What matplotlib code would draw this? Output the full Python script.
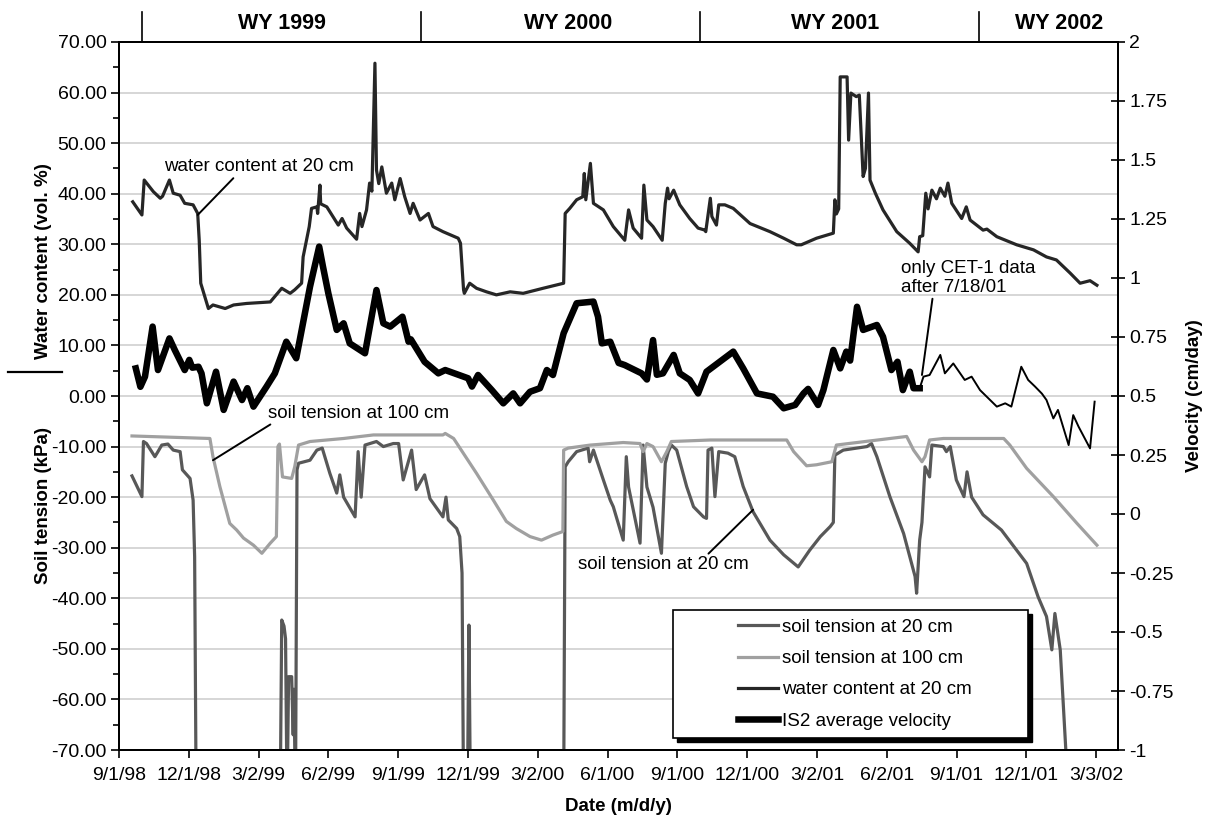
import numpy as np
import matplotlib
matplotlib.use('Agg')
from matplotlib import pyplot as plt
from matplotlib.patches import Rectangle
from matplotlib.lines import Line2D

plt.rcParams['font.family'] = ['Liberation Sans', 'DejaVu Sans']

# x = days after 9/1/98
tick_labels = ['9/1/98', '12/1/98', '3/2/99', '6/2/99', '9/1/99', '12/1/99', '3/2/00',
               '6/1/00', '9/1/00', '12/1/00', '3/2/01', '6/2/01', '9/1/01', '12/1/01', '3/3/02']
tick_step = 91.36
x_max = 1307.6

wy_bounds = [30, 395, 761, 1126]          # 10/1 of each water year
wy_names = ['WY 1999', 'WY 2000', 'WY 2001', 'WY 2002']
wy_label_days = [213, 588, 937, 1231]

# water content at 20 cm (vol. %)
wc_day = [18, 30, 33, 45, 54, 57, 66, 71, 80, 86, 97, 103, 105, 107, 117, 123, 139, 150, 167, 198,
          213, 224, 230, 239, 241, 249, 252, 259, 260, 263, 264, 272, 287, 292, 298, 311, 315, 318,
          324, 328, 331, 335, 337, 340, 344, 350, 357, 361, 368, 374, 381, 385, 394, 405, 411, 424,
          444, 447, 451, 452, 459, 468, 481, 494, 512, 529, 555, 582, 584, 590, 599, 607, 609, 611,
          617, 621, 634, 647, 662, 667, 673, 684, 687, 691, 699, 711, 715, 718, 720, 726, 734, 747,
          758, 767, 768, 774, 776, 782, 785, 793, 804, 826, 852, 870, 887, 893, 913, 935, 937, 939,
          942, 944, 953, 955, 958, 965, 969, 974, 977, 981, 983, 990, 1000, 1018, 1035, 1046, 1048,
          1052, 1056, 1059, 1064, 1070, 1075, 1081, 1085, 1090, 1103, 1109, 1114, 1131, 1136, 1149,
          1175, 1197, 1214, 1227, 1245, 1258, 1271, 1280]
wc_val = [38.4, 35.8, 42.7, 40.4, 39.1, 39.5, 42.7, 40.1, 39.7, 38.1, 37.8, 36.1, 30.8, 22.3, 17.3,
          18.0, 17.3, 18.0, 18.3, 18.6, 21.3, 20.3, 21.0, 22.3, 27.5, 33.5, 37.1, 37.4, 36.1, 41.7,
          38.0, 37.4, 33.8, 35.1, 33.2, 31.0, 36.1, 33.5, 36.8, 42.1, 40.5, 65.8, 44.7, 42.0, 45.3,
          40.1, 42.1, 38.8, 43.0, 39.4, 36.1, 38.1, 34.8, 36.1, 33.5, 32.5, 31.2, 30.2, 21.0, 20.3,
          22.3, 21.3, 20.6, 20.0, 20.6, 20.3, 21.3, 22.3, 36.1, 37.1, 38.8, 39.4, 44.0, 38.8, 46.0,
          38.1, 36.8, 33.5, 30.8, 36.8, 33.2, 31.2, 41.7, 34.8, 33.5, 30.8, 38.1, 41.1, 39.0, 40.7,
          37.8, 35.1, 33.2, 32.8, 32.5, 39.1, 35.5, 33.8, 37.8, 37.8, 37.1, 34.1, 32.5, 31.2, 29.9,
          29.9, 31.2, 32.2, 38.8, 36.0, 37.0, 63.1, 63.1, 50.6, 59.9, 59.2, 59.5, 43.4, 45.0, 59.9,
          42.7, 40.1, 36.8, 32.5, 30.2, 28.5, 31.5, 31.7, 40.1, 37.0, 40.7, 39.0, 41.1, 39.5, 42.1,
          38.1, 35.1, 37.4, 34.8, 32.8, 33.0, 31.5, 29.9, 28.9, 27.5, 26.9, 24.3, 22.3, 22.8, 21.9]

# soil tension at 20 cm (kPa), values below -70 are off scale
st20_day = [17, 30, 32, 36, 47, 51, 56, 64, 71, 80, 83, 93, 97, 99, 101, 211, 213, 216, 218, 220,
            222, 226, 228, 229, 231, 233, 235, 250, 259, 266, 276, 285, 289, 294, 309, 313, 317, 322,
            337, 346, 359, 366, 372, 383, 389, 400, 407, 424, 428, 431, 442, 446, 449, 451, 456, 458,
            460, 582, 584, 588, 599, 614, 616, 621, 634, 643, 647, 656, 660, 664, 667, 682, 686, 691,
            699, 710, 715, 719, 723, 730, 743, 752, 765, 769, 771, 776, 780, 785, 797, 806, 817, 830,
            852, 870, 889, 904, 918, 931, 935, 937, 948, 979, 985, 992, 1009, 1027, 1042, 1044, 1048,
            1051, 1055, 1061, 1064, 1079, 1083, 1088, 1096, 1106, 1110, 1116, 1131, 1155, 1175, 1188,
            1203, 1214, 1221, 1225, 1232, 1243]
st20_val = [-15.8, -19.9, -9.0, -9.4, -12.0, -11.0, -9.7, -9.5, -10.7, -11.0, -14.6, -16.3, -20.6,
            -31.8, -80, -80, -44.3, -45.5, -48.0, -80, -55.5, -55.5, -67.0, -58.0, -80, -14.6, -13.3,
            -12.7, -10.7, -10.3, -15.3, -19.2, -15.6, -20.0, -23.9, -11.0, -20.0, -9.7, -9.0, -10.0,
            -9.4, -9.4, -16.6, -10.7, -18.5, -15.6, -20.3, -23.9, -20.0, -24.5, -26.2, -27.8, -35.0,
            -80, -80, -45.3, -80, -80, -14.0, -13.0, -11.0, -10.3, -13.0, -10.7, -16.6, -20.6, -21.9,
            -26.5, -28.5, -12.0, -18.0, -29.1, -9.7, -18.0, -22.0, -31.1, -13.3, -11.0, -9.7, -10.7,
            -17.9, -21.9, -23.9, -24.2, -10.7, -10.3, -19.9, -11.0, -11.3, -12.0, -17.9, -22.9, -28.5,
            -31.4, -33.8, -30.5, -27.8, -25.8, -25.0, -11.7, -10.7, -10.0, -9.4, -12.0, -19.9, -27.2,
            -35.7, -39.0, -28.5, -25.0, -14.0, -16.0, -9.7, -10.0, -11.0, -10.0, -16.6, -19.9, -15.0,
            -20.0, -23.5, -26.5, -30.5, -33.1, -39.7, -43.6, -50.2, -43.0, -50.2, -80]

# soil tension at 100 cm (kPa)
st100_day = [17, 119, 123, 132, 145, 154, 163, 176, 187, 198, 206, 208, 210, 214, 226, 230, 235,
             250, 294, 333, 424, 427, 438, 468, 490, 507, 520, 538, 553, 568, 581, 582, 588, 617,
             660, 682, 686, 691, 699, 710, 717, 723, 774, 874, 883, 900, 913, 933, 939, 955, 1031,
             1040, 1051, 1055, 1061, 1079, 1158, 1166, 1188, 1223, 1254, 1280]
st100_val = [-7.9, -8.4, -12.0, -17.9, -25.2, -26.5, -28.1, -29.5, -31.1, -29.1, -27.8, -10.0,
             -9.5, -16.0, -16.3, -14.0, -9.7, -9.0, -8.4, -7.7, -7.7, -7.4, -8.4, -15.3, -20.6,
             -24.8, -26.2, -27.8, -28.5, -27.5, -26.8, -10.7, -10.3, -9.7, -9.2, -9.4, -11.0, -9.4,
             -10.0, -13.0, -11.0, -9.0, -8.7, -8.7, -11.0, -13.8, -13.6, -13.0, -9.7, -9.4, -8.0,
             -10.7, -13.0, -12.0, -8.7, -8.4, -8.4, -9.7, -14.3, -19.9, -25.2, -29.5]

# IS2 average velocity (cm/day)
vel_day = [22, 28, 34, 44, 51, 66, 73, 86, 92, 96, 104, 108, 115, 127, 137, 150, 161, 168, 176,
           193, 204, 219, 232, 250, 262, 267, 274, 285, 294, 302, 322, 337, 346, 355, 371, 379, 382,
           400, 418, 427, 457, 462, 470, 488, 503, 516, 525, 538, 551, 560, 568, 582, 599, 621, 627,
           632, 643, 654, 662, 684, 691, 699, 704, 712, 726, 734, 747, 758, 769, 804, 817, 835, 856,
           870, 885, 896, 902, 915, 922, 935, 944, 952, 957, 966, 974, 992, 1000, 1011, 1019, 1026,
           1035, 1040, 1048]
vel_val = [0.617, 0.539, 0.582, 0.794, 0.610, 0.744, 0.695, 0.610, 0.653, 0.620, 0.624, 0.596,
           0.469, 0.603, 0.441, 0.561, 0.483, 0.533, 0.455, 0.539, 0.596, 0.730, 0.660, 0.963,
           1.133, 1.048, 0.935, 0.780, 0.808, 0.723, 0.681, 0.949, 0.808, 0.794, 0.836, 0.730,
           0.740, 0.645, 0.596, 0.610, 0.575, 0.540, 0.589, 0.525, 0.469, 0.511, 0.469, 0.518,
           0.533, 0.610, 0.589, 0.766, 0.893, 0.900, 0.836, 0.723, 0.730, 0.640, 0.631, 0.596,
           0.570, 0.737, 0.590, 0.596, 0.674, 0.596, 0.568, 0.511, 0.603, 0.688, 0.617, 0.511,
           0.497, 0.448, 0.462, 0.511, 0.530, 0.462, 0.525, 0.695, 0.617, 0.688, 0.650, 0.878,
           0.780, 0.801, 0.751, 0.610, 0.645, 0.525, 0.603, 0.533, 0.533]

# CET-1 only, after 7/18/01
cet_day = [1048, 1053, 1061, 1075, 1081, 1092, 1107, 1116, 1127, 1149, 1160, 1168, 1181, 1190,
           1199, 1208, 1214, 1223, 1229, 1243, 1249, 1256, 1271, 1277]
cet_val = [0.533, 0.582, 0.589, 0.674, 0.596, 0.638, 0.568, 0.582, 0.525, 0.455, 0.469, 0.455,
           0.624, 0.568, 0.540, 0.510, 0.483, 0.405, 0.441, 0.292, 0.419, 0.370, 0.278, 0.476]

fig = plt.figure(figsize=(12.12, 8.21), dpi=100)
ax = fig.add_axes([119/1212, 71/821, 999/1212, 708/821])
ax2 = ax.twinx()

c_st20 = '#585858'
c_st100 = '#a0a0a0'
c_wc = '#262626'

l1, = ax.plot(st20_day, st20_val, color=c_st20, lw=2.3, label='soil tension at 20 cm')
l2, = ax.plot(st100_day, st100_val, color=c_st100, lw=2.3, label='soil tension at 100 cm')
l3, = ax.plot(wc_day, wc_val, color=c_wc, lw=2.3, label='water content at 20 cm')
l4, = ax2.plot(vel_day, vel_val, color='black', lw=4.7, solid_joinstyle='round',
               label='IS2 average velocity')
ax2.plot(cet_day, cet_val, color='black', lw=1.4)

# axes
ax.set_xlim(0, x_max)
ax.set_ylim(-70, 70)
ax2.set_ylim(-1, 2)
ax.set_xticks(np.arange(len(tick_labels)) * tick_step)
ax.set_xticklabels(tick_labels)
left_ticks = np.arange(-70, 71, 10)
ax.set_yticks(left_ticks)
ax.set_yticklabels(['%.2f' % v for v in left_ticks])
ax.set_yticks(np.arange(-65, 70, 10), minor=True)
right_ticks = np.arange(-1, 2.01, 0.25)
ax2.set_yticks(right_ticks)
ax2.set_yticklabels(['%g' % v for v in right_ticks])

ax.grid(axis='y', color='#d6d6d6', lw=1.4)
ax.set_axisbelow(True)
for a in (ax, ax2):
    for s in a.spines.values():
        s.set_linewidth(1.4)
ax.tick_params(axis='x', direction='out', length=6, width=1.2, labelsize=14, pad=6)
ax.tick_params(axis='y', which='major', direction='out', length=6, width=1.2, labelsize=14, pad=3)
ax.tick_params(axis='y', which='minor', direction='out', length=4, width=1.2)
ax2.tick_params(axis='y', direction='inout', length=10, width=1.2, labelsize=14, pad=3)

ax.set_xlabel('Date (m/d/y)', fontsize=13.5, fontweight='bold', labelpad=10)
ax2.set_ylabel('Velocity (cm/day)', fontsize=13.5, fontweight='bold')
ax2.yaxis.set_label_coords(1.068, 0.5)
fig.text(44/1212, 1 - 261/821, 'Water content (vol. %)', rotation=90, ha='center', va='center',
         fontsize=13.5, fontweight='bold')
fig.text(44/1212, 1 - 505/821, 'Soil tension (kPa)', rotation=90, ha='center', va='center',
         fontsize=13.5, fontweight='bold')
fig.add_artist(Line2D([8/1212, 62/1212], [1 - 372/821, 1 - 372/821], color='black', lw=1.6))

# water year band along the top
for d in wy_bounds:
    ax.plot([d, d], [1, 1.043], transform=ax.get_xaxis_transform(), color='black', lw=1.2,
            clip_on=False)
for name, d in zip(wy_names, wy_label_days):
    ax.text(d, 1.026, name, transform=ax.get_xaxis_transform(), ha='center', va='center',
            fontsize=15.5, fontweight='bold')

# annotations
arrow = dict(arrowstyle='-', color='black', lw=1.4, shrinkA=0, shrinkB=0)
ax.annotate('water content at 20 cm', xy=(103, 35.8), xytext=(183, 45.3), ha='center',
            va='center', fontsize=13.5, arrowprops=dict(arrow, relpos=(0.38, 0)))
ax.annotate('soil tension at 100 cm', xy=(123, -12.7), xytext=(313, -3.4), ha='center',
            va='center', fontsize=13.5, arrowprops=dict(arrow, relpos=(0.04, 0)))
ax.annotate('soil tension at 20 cm', xy=(830, -22.5), xytext=(712, -33.4), ha='center',
            va='center', fontsize=13.5, arrowprops=dict(arrow, relpos=(0.75, 1)))
ax2.annotate('only CET-1 data\nafter 7/18/01', xy=(1051, 0.589), xytext=(1023, 1.0),
             ha='left', va='center', fontsize=13.5, linespacing=1.15,
             arrowprops=dict(arrow, relpos=(0.24, 0)))

# legend box with shadow
bx, by, bw, bh = (673-119)/999, (750-738)/708, 355/999, 128/708
ax2.add_patch(Rectangle((bx + 0.004, by - 0.0057), bw, bh, transform=ax2.transAxes,
                        facecolor='black', edgecolor='black', zorder=5, clip_on=False))
ax2.add_patch(Rectangle((bx, by), bw, bh, transform=ax2.transAxes, facecolor='white',
                        edgecolor='black', lw=1.2, zorder=6, clip_on=False))
leg = ax2.legend(handles=[l1, l2, l3, l4], loc='center', bbox_to_anchor=(0.737, 0.107),
                 frameon=False, fontsize=13.5, handlelength=2.1, handletextpad=0.25,
                 labelspacing=0.75)
leg.set_zorder(7)

fig.savefig('out.png', dpi=100)
